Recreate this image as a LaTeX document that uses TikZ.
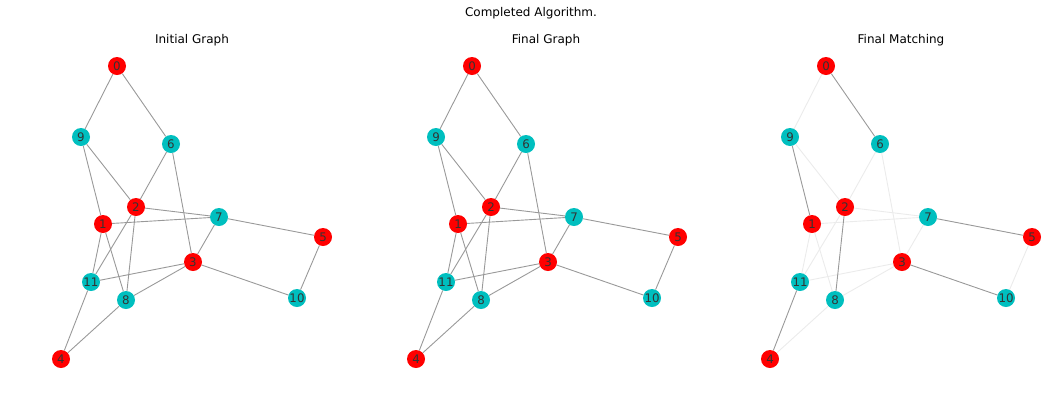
\documentclass[tikz,border=0pt]{standalone}
\usepackage{fontspec}
\setmainfont{DejaVu Sans}
\definecolor{vcyan}{rgb}{0,0.75,0.75}
\tikzset{
  vertex/.style={circle, minimum size=18pt, inner sep=0pt, text=black!80, font=\fontsize{11.8}{12}\selectfont},
  redv/.style={vertex, fill=red},
  cyanv/.style={vertex, fill=vcyan},
  edge/.style={draw=black!40, line width=0.9pt},
  faint/.style={draw=black!8, line width=0.9pt},
  caption/.style={font=\fontsize{12}{12}\selectfont, text=black},
}
% all twelve vertices of one panel, named #1 plus the number
\newcommand{\putvertices}[1]{
  \node[redv] (#10) at (117, 66) {0};
  \node[redv] (#11) at (103, 224) {1};
  \node[redv] (#12) at (136, 207) {2};
  \node[redv] (#13) at (193, 262) {3};
  \node[redv] (#14) at (61, 359) {4};
  \node[redv] (#15) at (323, 237) {5};
  \node[cyanv] (#16) at (171, 144) {6};
  \node[cyanv] (#17) at (219, 217) {7};
  \node[cyanv] (#18) at (126, 300) {8};
  \node[cyanv] (#19) at (81, 137) {9};
  \node[cyanv] (#110) at (297, 298) {10};
  \node[cyanv] (#111) at (91, 282) {11};
}
\begin{document}
\begin{tikzpicture}[x=1pt, y=-1pt]
		%%%%% START %%%%%
		\useasboundingbox (0, 0) rectangle (1059, 400);
		
		\node[caption] (title) at (531, 13) {Completed Algorithm.};
		
		% initial graph
		\node[caption] (inittitle) at (192, 40) {Initial Graph};
		\begin{scope}
			\putvertices{a}
			\foreach \u/\v in {0/9, 0/6, 9/1, 9/2, 6/2, 6/3, 2/7, 2/11, 2/8, 1/7,
				1/11, 1/8, 7/5, 7/3, 5/10, 3/11, 3/8, 3/10, 11/4, 8/4}
				\draw[edge] (a\u) -- (a\v);
		\end{scope}
		
		% final graph
		\node[caption] (finaltitle) at (546, 40) {Final Graph};
		\begin{scope}[xshift=355pt]
			\putvertices{b}
			\foreach \u/\v in {0/9, 0/6, 9/1, 9/2, 6/2, 6/3, 2/7, 2/11, 2/8, 1/7,
				1/11, 1/8, 7/5, 7/3, 5/10, 3/11, 3/8, 3/10, 11/4, 8/4}
				\draw[edge] (b\u) -- (b\v);
		\end{scope}
		
		% final matching
		\node[caption] (matchtitle) at (901, 40) {Final Matching};
		\begin{scope}[xshift=709pt]
			\putvertices{c}
			\foreach \u/\v in {0/9, 9/2, 6/2, 6/3, 2/7, 2/11, 1/7, 1/11, 1/8,
				7/3, 5/10, 3/11, 3/8, 8/4}
				\draw[faint] (c\u) -- (c\v);
			\foreach \u/\v in {0/6, 9/1, 2/8, 7/5, 3/10, 11/4}
				\draw[edge] (c\u) -- (c\v);
		\end{scope}
		
		%%%%% END %%%%%
\end{tikzpicture}
\end{document}
